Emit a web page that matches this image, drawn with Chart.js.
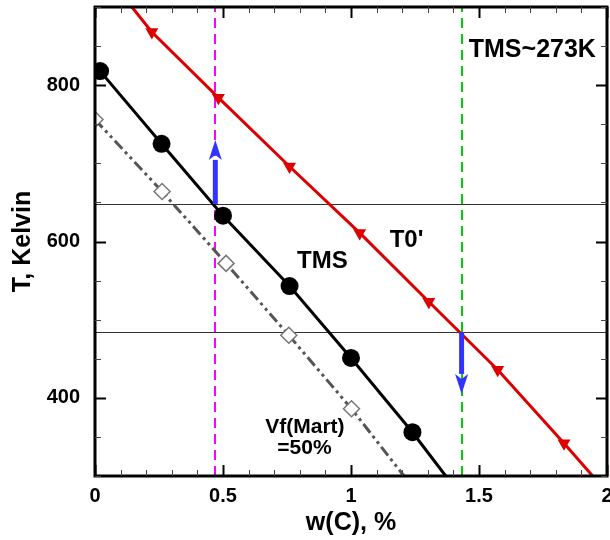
<!DOCTYPE html>
<html>
<head>
<meta charset="utf-8">
<script src="https://cdn.jsdelivr.net/npm/chart.js@4/dist/chart.umd.min.js"></script>
<style>
  body { margin: 0; background: #fff; }
  #wrap { width: 610px; height: 540px; }
</style>
</head>
<body>
<div id="wrap"><canvas id="chart" width="610" height="540"></canvas></div>
<script>
// values (x = w(C) %, y = T in K)
const t0X = [0.144, 0.222, 0.482, 0.76, 1.034, 1.304, 1.573, 1.832, 1.944];
const t0Y = [900, 868, 784, 696, 611, 523, 436, 342, 300];
const t0Marks = [0, 1, 1, 1, 1, 1, 1, 1, 0];

const tmsX = [0.02, 0.26, 0.5, 0.76, 1.0, 1.24, 1.37];
const tmsY = [818, 725, 633, 543, 451, 356, 300];
const tmsMarks = [1, 1, 1, 1, 1, 1, 0];

const vfX = [0.0, 0.262, 0.512, 0.757, 1.002, 1.207];
const vfY = [756, 664, 572, 480, 386, 300];
const vfMarks = [1, 1, 1, 1, 1, 0];

const hLevels = [648, 484];
const vLines = [0.47, 1.432];
const arrowX = [0.47, 1.432];
const arrowFrom = [648, 484];
const arrowTo = [730, 405];

const xTickLabels = [0, 0.5, 1, 1.5, 2];
const yTickLabels = [400, 600, 800];

const textLabels = [
    { text: 'TMS~273K', x: 1.46, y: 845, size: 25 },
    { text: 'TMS', x: 0.789, y: 574, size: 24 },
    { text: "T0'", x: 1.151, y: 602, size: 24 },
    { text: 'Vf(Mart)', x: 0.665, y: 362, size: 21 },
    { text: '=50%', x: 0.712, y: 335, size: 21 }
];

const FONT = 'Arial, "Liberation Sans", sans-serif';

function pts(xs, ys) {
    return xs.map((x, i) => ({ x: x, y: ys[i] }));
}

function noPad(s) {
    s.paddingLeft = 0;
    s.paddingRight = 0;
    s.paddingTop = 0;
    s.paddingBottom = 0;
}

const frameTicks = {
    id: 'frameTicks',
    beforeDatasetsDraw(chart) {
        const ctx = chart.ctx;
        const xs = chart.scales.x, ys = chart.scales.y;
        const a = chart.chartArea;
        ctx.save();
        // horizontal reference lines
        ctx.strokeStyle = '#333';
        ctx.lineWidth = 1;
        hLevels.forEach(v => {
            const py = Math.round(ys.getPixelForValue(v)) + 0.5;
            ctx.beginPath();
            ctx.moveTo(a.left, py);
            ctx.lineTo(a.right, py);
            ctx.stroke();
        });
        // vertical dashed lines
        ctx.lineWidth = 2;
        ctx.setLineDash([10, 6]);
        const vColors = ['#ff00ff', '#00cc00'];
        vLines.forEach((v, i) => {
            const px = Math.round(xs.getPixelForValue(v));
            ctx.strokeStyle = vColors[i];
            ctx.beginPath();
            ctx.moveTo(px, a.bottom);
            ctx.lineTo(px, a.top);
            ctx.stroke();
        });
        ctx.restore();
    },
    afterDatasetsDraw(chart) {
        const ctx = chart.ctx;
        const xs = chart.scales.x, ys = chart.scales.y;
        const a = chart.chartArea;
        ctx.save();
        // blue arrows
        ctx.fillStyle = '#3333ff';
        ctx.strokeStyle = '#3333ff';
        arrowX.forEach((v, i) => {
            const px = xs.getPixelForValue(v);
            const p0 = ys.getPixelForValue(arrowFrom[i]);
            const p1 = ys.getPixelForValue(arrowTo[i]);
            const dir = p1 < p0 ? -1 : 1;
            const head = 20;
            ctx.lineWidth = 5;
            ctx.beginPath();
            ctx.moveTo(px, p0);
            ctx.lineTo(px, p1 - dir * head);
            ctx.stroke();
            ctx.beginPath();
            ctx.moveTo(px, p1);
            ctx.lineTo(px - 6.5, p1 - dir * head);
            ctx.lineTo(px, p1 - dir * (head - 5));
            ctx.lineTo(px + 6.5, p1 - dir * head);
            ctx.closePath();
            ctx.fill();
        });
        // text labels
        ctx.fillStyle = '#000';
        ctx.textBaseline = 'middle';
        ctx.textAlign = 'left';
        textLabels.forEach(l => {
            ctx.font = 'bold ' + l.size + 'px ' + FONT;
            ctx.fillText(l.text, xs.getPixelForValue(l.x), ys.getPixelForValue(l.y));
        });
        // frame
        ctx.strokeStyle = '#000';
        ctx.lineWidth = 3;
        ctx.strokeRect(a.left, a.top, a.right - a.left, a.bottom - a.top);
        // inward ticks on all four sides
        const major = 11, minor = 6;
        xs.ticks.forEach(t => {
            const isMajor = Math.abs(t.value * 2 - Math.round(t.value * 2)) < 1e-6;
            const px = Math.round(xs.getPixelForValue(t.value)) + 0.5;
            const len = isMajor ? major : minor;
            ctx.lineWidth = isMajor ? 2 : 1;
            ctx.strokeStyle = isMajor ? '#000' : '#444';
            ctx.beginPath();
            ctx.moveTo(px, a.bottom); ctx.lineTo(px, a.bottom - len);
            ctx.moveTo(px, a.top); ctx.lineTo(px, a.top + len);
            ctx.stroke();
        });
        ys.ticks.forEach(t => {
            const isMajor = t.value % 200 === 0;
            const py = Math.round(ys.getPixelForValue(t.value)) + 0.5;
            const len = isMajor ? major : minor;
            ctx.lineWidth = isMajor ? 2 : 1;
            ctx.strokeStyle = isMajor ? '#000' : '#444';
            ctx.beginPath();
            ctx.moveTo(a.left, py); ctx.lineTo(a.left + len, py);
            ctx.moveTo(a.right, py); ctx.lineTo(a.right - len, py);
            ctx.stroke();
        });
        ctx.restore();
    }
};

const ctx = document.getElementById('chart').getContext('2d');
new Chart(ctx, {
    type: 'line',
    data: {
        datasets: [
            {
                label: 'Vf(Mart)=50%',
                data: pts(vfX, vfY),
                borderColor: '#555',
                borderWidth: 3,
                borderDash: [11, 4, 3, 4, 3, 4],
                pointStyle: 'rectRot',
                pointRadius: vfMarks.map(m => m ? 8 : 0),
                pointBackgroundColor: '#fff',
                pointBorderColor: '#777',
                pointBorderWidth: 1.5
            },
            {
                label: 'TMS',
                data: pts(tmsX, tmsY),
                borderColor: '#000',
                borderWidth: 3,
                pointStyle: 'circle',
                pointRadius: tmsMarks.map(m => m ? 9 : 0),
                pointBackgroundColor: '#000',
                pointBorderColor: '#000',
                pointBorderWidth: 0
            },
            {
                label: "T0'",
                data: pts(t0X, t0Y),
                borderColor: '#dd0000',
                borderWidth: 3,
                pointStyle: 'triangle',
                rotation: 180,
                pointRadius: t0Marks.map(m => m ? 7.5 : 0),
                pointBackgroundColor: '#dd0000',
                pointBorderColor: '#dd0000',
                pointBorderWidth: 0
            }
        ]
    },
    options: {
        responsive: false,
        animation: false,
        events: [],
        layout: { autoPadding: false, padding: { top: 7, right: 3, left: 0, bottom: 0 } },
        plugins: {
            legend: { display: false },
            tooltip: { enabled: false }
        },
        scales: {
            x: {
                type: 'linear',
                min: 0,
                max: 2,
                afterFit: s => { s.height = 64; noPad(s); },
                grid: { display: false, drawTicks: false },
                border: { display: false },
                ticks: {
                    stepSize: 0.1,
                    autoSkip: false,
                    maxRotation: 0,
                    padding: 8,
                    color: '#000',
                    font: { family: FONT, size: 20, weight: 'bold' },
                    callback: v => {
                        const hit = xTickLabels.find(l => Math.abs(l - v) < 1e-6);
                        return hit === undefined ? '' : String(hit);
                    }
                },
                title: {
                    display: true,
                    text: 'w(C), %',
                    color: '#000',
                    font: { family: FONT, size: 25, weight: 'bold' },
                    padding: { top: 0, bottom: 2 }
                }
            },
            y: {
                type: 'linear',
                min: 300,
                max: 900,
                afterFit: s => { s.width = 95; noPad(s); },
                grid: { display: false, drawTicks: false },
                border: { display: false },
                ticks: {
                    stepSize: 50,
                    autoSkip: false,
                    padding: 15,
                    color: '#000',
                    font: { family: FONT, size: 20, weight: 'bold' },
                    callback: v => yTickLabels.includes(v) ? String(v) : ''
                },
                title: {
                    display: true,
                    text: 'T, Kelvin',
                    color: '#000',
                    font: { family: FONT, size: 25, weight: 'bold' },
                    padding: { top: 8, bottom: 0 }
                }
            }
        }
    },
    plugins: [frameTicks]
});
</script>
</body>
</html>
